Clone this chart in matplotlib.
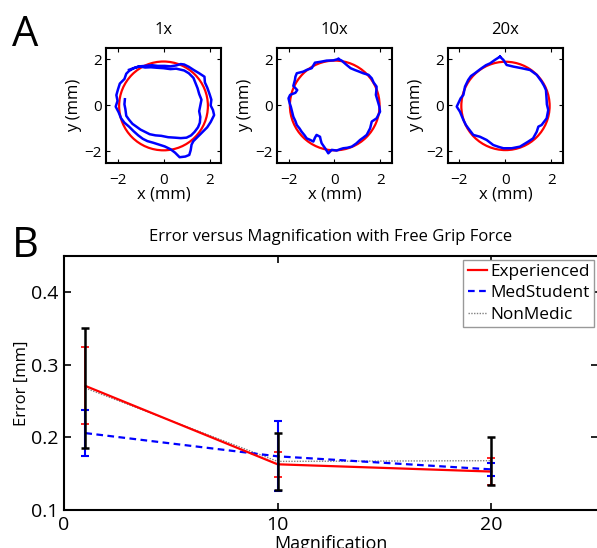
import matplotlib
matplotlib.use("Agg")
from matplotlib import pyplot as plt
from matplotlib.patches import Circle

plt.rcParams['font.family'] = ['Open Sans', 'DejaVu Sans']

# panel A: traced paths (mm) and fitted circles
panel_titles = ["1x", "10x", "20x"]

trace_1x_x = [-1.68, -1.70, -1.66, -1.62, -1.50, -1.35, -1.18, -1.00, -0.80, -0.60, -0.35, -0.10, 0.20, 0.50,
              0.75, 1.00, 1.20, 1.35, 1.50, 1.58, 1.60, 1.55, 1.60, 1.65, 1.55, 1.48, 1.40, 1.30, 1.10, 0.90,
              0.55, 0.30, 0.00, -0.30, -0.55, -0.80, -1.05, -1.30, -1.50, -1.62, -1.70, -1.90, -1.98, -2.05,
              -2.00, -2.08, -1.95, -1.85, -1.70, -1.50, -1.30, -1.10, -0.90, -0.70, -0.45, -0.20, 0.05, 0.30,
              0.50, 0.70, 0.95, 1.12, 1.18, 1.22, 1.30, 1.50, 1.70, 1.90, 2.05, 2.20, 2.15, 2.05, 2.08, 2.00,
              1.90, 1.80, 1.78, 1.55, 1.30, 1.10, 0.90, 0.75, 0.55, 0.30, 0.05, -0.25, -0.50, -0.80, -1.05,
              -1.30, -1.50]
trace_1x_y = [0.27, 0.05, -0.15, -0.45, -0.62, -0.80, -0.92, -1.05, -1.15, -1.25, -1.30, -1.32, -1.38, -1.40,
              -1.42, -1.40, -1.30, -1.15, -0.95, -0.75, -0.50, -0.25, 0.00, 0.25, 0.50, 0.75, 0.95, 1.20,
              1.40, 1.52, 1.60, 1.58, 1.62, 1.64, 1.66, 1.65, 1.70, 1.62, 1.50, 1.38, 1.15, 0.95, 0.70,
              0.45, 0.20, -0.05, -0.30, -0.55, -0.75, -0.92, -1.12, -1.30, -1.45, -1.55, -1.62, -1.70,
              -1.78, -1.90, -2.05, -2.25, -2.22, -2.15, -1.95, -1.70, -1.55, -1.35, -1.15, -0.95, -0.72,
              -0.42, -0.20, 0.00, 0.25, 0.50, 0.78, 1.00, 1.25, 1.40, 1.55, 1.68, 1.78, 1.80, 1.74, 1.70,
              1.72, 1.72, 1.75, 1.72, 1.70, 1.62, 1.55]

trace_10x_x = [0.17, -0.05, -0.34, -0.60, -0.85, -0.99, -1.20, -1.36, -1.64, -1.70, -1.72, -1.79, -1.62, -1.70,
               -1.93, -2.00, -1.95, -1.90, -1.85, -1.79, -1.70, -1.64, -1.52, -1.43, -1.30, -1.21, -1.05,
               -0.92, -0.85, -0.78, -0.63, -0.60, -0.56, -0.41, -0.35, -0.27, -0.12, 0.09, 0.25, 0.38, 0.55,
               0.75, 0.95, 1.11, 1.25, 1.40, 1.55, 1.62, 1.83, 1.98, 1.95, 1.91, 1.80, 1.82, 1.83, 1.70,
               1.62, 1.48, 1.25, 1.05, 0.89, 0.70, 0.53, 0.31, 0.17]
trace_10x_y = [2.02, 1.96, 1.95, 1.90, 1.86, 1.62, 1.55, 1.47, 1.40, 1.25, 1.11, 0.85, 0.67, 0.55, 0.46, 0.31,
               0.10, -0.05, -0.25, -0.49, -0.68, -0.85, -1.00, -1.14, -1.30, -1.43, -1.50, -1.57, -1.40,
               -1.28, -1.36, -1.50, -1.64, -1.86, -1.95, -2.08, -1.93, -1.96, -1.90, -1.86, -1.84, -1.79,
               -1.65, -1.50, -1.40, -1.28, -0.99, -0.70, -0.56, -0.27, -0.05, 0.09, 0.46, 0.65, 0.82, 1.00,
               1.18, 1.33, 1.40, 1.48, 1.54, 1.62, 1.76, 1.95, 2.02]

trace_20x_x = [-0.24, -0.46, -0.67, -0.85, -1.04, -1.20, -1.33, -1.50, -1.62, -1.76, -1.83, -1.95, -2.12,
               -1.98, -1.83, -1.72, -1.62, -1.40, -1.11, -0.82, -0.53, -0.30, -0.09, 0.27, 0.63, 0.99, 1.20,
               1.36, 1.43, 1.57, 1.79, 1.86, 1.80, 1.79, 1.76, 1.68, 1.57, 1.36, 1.07, 0.70, 0.34, 0.05,
               -0.09, -0.24]
trace_20x_y = [2.12, 1.98, 1.83, 1.75, 1.62, 1.50, 1.40, 1.28, 1.11, 0.82, 0.46, 0.31, -0.05, -0.27, -0.63,
               -0.85, -0.99, -1.28, -1.36, -1.50, -1.72, -1.80, -1.86, -1.86, -1.79, -1.57, -1.43, -1.14,
               -0.92, -0.85, -0.56, -0.20, 0.05, 0.24, 0.67, 0.85, 1.04, 1.33, 1.54, 1.62, 1.69, 1.76, 1.98,
               2.12]

traces_x = [trace_1x_x, trace_10x_x, trace_20x_x]
traces_y = [trace_1x_y, trace_10x_y, trace_20x_y]
fit_cx = [0.0, 0.01, 0.0]
fit_cy = [-0.02, 0.0, -0.02]
fit_r = [1.93, 1.95, 1.92]

# panel B: mean error and error bar half-widths
magnification = [1, 10, 20]
experienced = [0.271, 0.163, 0.153]
experienced_err = [0.053, 0.017, 0.019]
medstudent = [0.206, 0.174, 0.156]
medstudent_err = [0.032, 0.048, 0.009]
nonmedic = [0.268, 0.167, 0.168]
nonmedic_err = [0.083, 0.039, 0.033]

fig = plt.figure(figsize=(5.97, 5.48), dpi=100)

lefts = [0.1776, 0.464, 0.7504]
for i in range(3):
    ax = fig.add_axes([lefts[i], 0.7026, 0.1926, 0.2099])
    ax.plot(traces_x[i], traces_y[i], color='#0000ff', lw=1.8)
    ax.add_patch(Circle((fit_cx[i], fit_cy[i]), fit_r[i], fill=False, color='#ff0000', lw=1.6))
    ax.set_xlim(-2.5, 2.5)
    ax.set_ylim(-2.5, 2.5)
    ax.set_xticks([-2, 0, 2])
    ax.set_yticks([-2, 0, 2])
    ax.tick_params(direction='in', top=True, right=True, labelsize=11, length=3)
    ax.tick_params(axis='x', pad=7)
    ax.tick_params(axis='y', pad=3)
    for s in ax.spines.values():
        s.set_linewidth(1.5)
    ax.set_title(panel_titles[i], fontsize=12, pad=10)
    ax.set_xlabel('x (mm)', fontsize=12, labelpad=-1)
    ax.set_ylabel('y (mm)', fontsize=12, labelpad=2)

fig.text(0.02, 0.975, 'A', fontsize=30, va='top', ha='left')
fig.text(0.02, 0.59, 'B', fontsize=30, va='top', ha='left')

ax = fig.add_axes([0.1072, 0.0693, 0.8945, 0.4635])
ax.plot(magnification, experienced, color='#ff0000', lw=1.6, label='Experienced', zorder=3)
ax.plot(magnification, medstudent, color='#0000ff', lw=1.6, ls=(0, (3, 2)), label='MedStudent', zorder=2)
ax.plot(magnification, nonmedic, color='#808080', lw=1.0, ls=(0, (1, 1)), label='NonMedic', zorder=1)
ax.errorbar(magnification, experienced, yerr=experienced_err, fmt='none', ecolor='#ff0000',
            elinewidth=1.2, capsize=3, capthick=1.2, zorder=4)
ax.errorbar(magnification, medstudent, yerr=medstudent_err, fmt='none', ecolor='#0000ff',
            elinewidth=1.5, capsize=3, capthick=1.5, zorder=4)
ax.errorbar(magnification, nonmedic, yerr=nonmedic_err, fmt='none', ecolor='black',
            elinewidth=1.8, capsize=3, capthick=1.8, zorder=5)
ax.set_xlim(0, 25)
ax.set_ylim(0.1, 0.45)
ax.set_xticks([0, 10, 20])
ax.set_yticks([0.1, 0.2, 0.3, 0.4])
ax.set_yticklabels(['0.1', '0.2', '0.3', '0.4'])
ax.tick_params(direction='in', top=True, right=True, labelsize=14, length=5, width=1.2, pad=4)
for s in ax.spines.values():
    s.set_linewidth(1.5)
ax.set_title('Error versus Magnification with Free Grip Force', fontsize=12, pad=11)
ax.set_xlabel('Magnification', fontsize=13, labelpad=1)
ax.set_ylabel('Error [mm]', fontsize=12, labelpad=1)
leg = ax.legend(loc='upper right', fontsize=12.4, handlelength=1.1, handletextpad=0.2,
                borderpad=0.25, labelspacing=0.3, borderaxespad=0.15, fancybox=False, framealpha=1,
                bbox_to_anchor=(0.997, 0.995))
leg.get_frame().set_edgecolor('#999999')

fig.savefig('out.png', dpi=100)
